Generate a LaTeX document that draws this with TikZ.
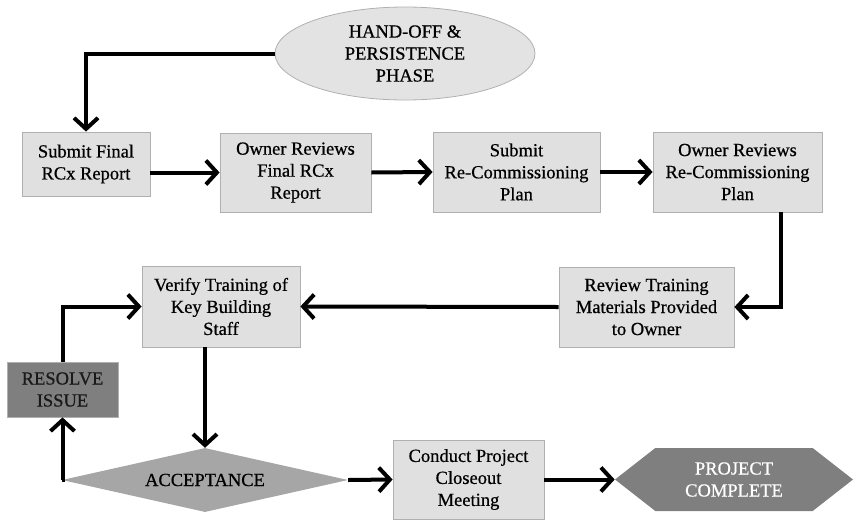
\documentclass[tikz,border=0pt]{standalone}
\usepackage{fontspec}
\setmainfont{Liberation Serif}[FakeBold=0.6]
\usetikzlibrary{arrows.meta,shapes.geometric,shapes.symbols}

\definecolor{boxfill}{HTML}{E0E0E0}
\definecolor{boxline}{HTML}{B0B0B0}
\definecolor{decfill}{HTML}{A6A6A6}
\definecolor{darkfill}{HTML}{7F7F7F}

\tikzset{
  stepbox/.style={draw=boxline, line width=0.8pt, fill=boxfill, align=center,
    inner sep=2pt, font=\fontsize{18.5}{22}\selectfont},
  phase/.style={ellipse, draw=boxline, line width=0.8pt, fill=boxfill!90!white,
    align=center, inner sep=0pt, font=\fontsize{18.5}{22}\selectfont},
  issuebox/.style={draw=boxline, line width=0.8pt, fill=darkfill, align=center,
    text=black!90, inner sep=2pt, font=\fontsize{18.5}{22}\selectfont},
  decision/.style={diamond, fill=decfill, inner sep=0pt, aspect=4.4,
    font=\fontsize{18.5}{22}\selectfont},
  finish/.style={signal, signal to=east and west, signal pointer angle=76,
    fill=darkfill, text=white, align=center, inner sep=0pt,
    font=\fontsize{18.5}{22}\selectfont},
  flow/.style={line width=4pt, -{Straight Barb[length=11pt,width=24pt]}},
}

\begin{document}
\begin{tikzpicture}[x=1pt, y=-1pt]
\useasboundingbox (0,0) rectangle (855,520);

% phase heading
\node[phase, minimum width=260pt, minimum height=93pt] (start) at (405,53.5)
  {HAND-OFF \&\\PERSISTENCE\\PHASE};

% top row of steps
\node[stepbox, minimum width=128pt, minimum height=64pt] (s1) at (86,164)
  {Submit Final\\RCx Report};
\node[stepbox, minimum width=151pt, minimum height=79pt] (s2) at (295.5,172.5)
  {Owner Reviews\\Final RCx\\Report};
\node[stepbox, minimum width=167pt, minimum height=80pt] (s3) at (516.5,172)
  {Submit\\Re-Commissioning\\Plan};
\node[stepbox, minimum width=169pt, minimum height=80pt] (s4) at (737.5,172)
  {Owner Reviews\\Re-Commissioning\\Plan};

% middle row
\node[stepbox, minimum width=175pt, minimum height=80pt] (s5) at (646.5,307)
  {Review Training\\Materials Provided\\to Owner};
\node[stepbox, minimum width=158pt, minimum height=81pt] (s6) at (221,306.5)
  {Verify Training of\\Key Building\\Staff};
\node[issuebox, minimum width=111pt, minimum height=55pt] (res) at (62.5,389.5)
  {RESOLVE\\ISSUE};

% bottom row
\node[decision, minimum width=286pt, minimum height=64pt] (acc) at (205,480)
  {ACCEPTANCE};
\node[stepbox, minimum width=151pt, minimum height=79pt] (s7) at (468.5,479.5)
  {Conduct Project\\Closeout\\Meeting};
\node[finish, minimum width=238pt, minimum height=63pt] (done) at (734,479.5)
  {PROJECT\\COMPLETE};

% connectors
\draw[flow] (start.west) -| (s1.north);
\draw[flow] (s1.east |- s2.west) -- (s2.west);
\draw[flow] (s2.east) -- (s3.west);
\draw[flow] (s3.east) -- (s4.west);
\draw[flow] ([xshift=43.5pt]s4.south) |- (s5.east);
\draw[flow] (s5.west) -- (s6.west -| s6.east);
\draw[flow] (s6.south -| acc.north) -- (acc.north);
\draw[flow] (acc.west) -| (res.south);
\draw[flow] (res.north) |- (s6.west);
\draw[flow] (acc.east) -- (s7.west);
\draw[flow] (s7.east) -- (done.west);
\end{tikzpicture}
\end{document}
